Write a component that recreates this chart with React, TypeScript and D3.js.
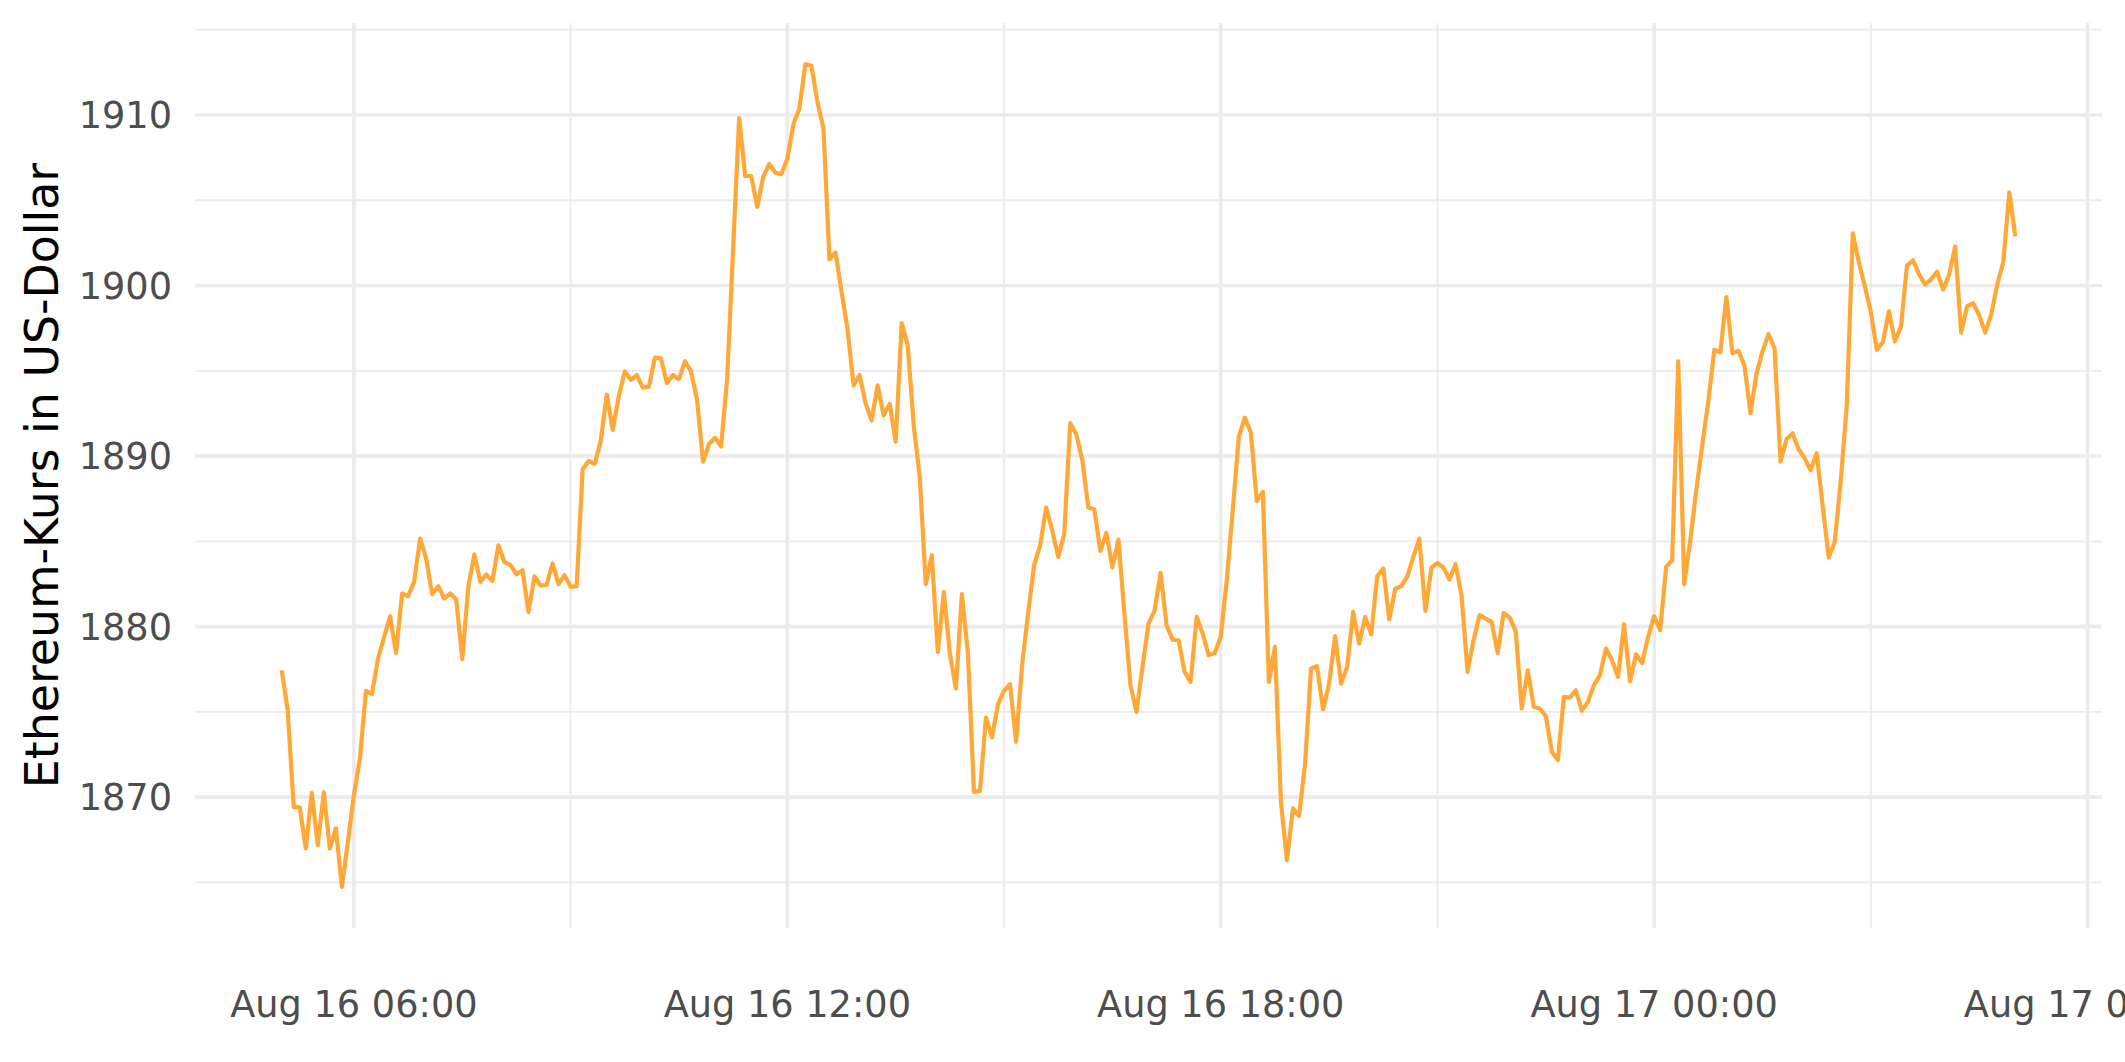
import * as d3 from 'd3';
import { useEffect, useRef } from 'react';

// Ethereum price, 5-minute candles, Aug 16 05:00 -> Aug 17 05:00 (UTC)
const startTime = Date.UTC(2023, 7, 16, 5, 0);
const stepMinutes = 5;

const prices: number[] = [
  1877.44, 1875.10, 1869.43, 1869.40, 1866.99, 1870.25, 1867.19, 1870.28, 1866.99, 1868.17, 1864.74, 1867.38,
  1870.12, 1872.27, 1876.23, 1876.04, 1878.13, 1879.36, 1880.61, 1878.46, 1881.94, 1881.78, 1882.62, 1885.16,
  1883.99, 1881.90, 1882.37, 1881.65, 1881.94, 1881.59, 1878.09, 1882.33, 1884.24, 1882.62, 1883.05, 1882.68,
  1884.77, 1883.79, 1883.60, 1883.07, 1883.31, 1880.86, 1882.95, 1882.41, 1882.44, 1883.70, 1882.49, 1883.01,
  1882.33, 1882.37, 1889.23, 1889.71, 1889.55, 1890.88, 1893.61, 1891.53, 1893.51, 1894.96, 1894.47, 1894.75,
  1894.01, 1894.07, 1895.77, 1895.73, 1894.27, 1894.75, 1894.51, 1895.56, 1894.96, 1893.31, 1889.67, 1890.72,
  1891.08, 1890.56, 1894.51, 1902.19, 1909.81, 1906.42, 1906.42, 1904.61, 1906.38, 1907.13, 1906.62, 1906.52,
  1907.43, 1909.45, 1910.36, 1912.98, 1912.88, 1910.76, 1909.21, 1901.54, 1901.94, 1899.66, 1897.44, 1894.15,
  1894.75, 1893.10, 1892.09, 1894.15, 1892.39, 1893.06, 1890.84, 1897.80, 1896.49, 1891.79, 1888.76, 1882.49,
  1884.19, 1878.52, 1882.03, 1878.42, 1876.37, 1881.90, 1878.42, 1870.31, 1870.37, 1874.67, 1873.50, 1875.45,
  1876.23, 1876.62, 1873.24, 1877.74, 1880.77, 1883.60, 1884.77, 1886.98, 1885.65, 1884.09, 1885.42, 1891.93,
  1891.28, 1889.77, 1886.99, 1886.88, 1884.44, 1885.49, 1883.46, 1885.10, 1880.77, 1876.57, 1875.00, 1877.64,
  1880.18, 1880.92, 1883.15, 1880.08, 1879.24, 1879.20, 1877.35, 1876.76, 1880.57, 1879.60, 1878.32, 1878.46,
  1879.40, 1882.72, 1886.84, 1891.13, 1892.25, 1891.38, 1887.35, 1887.90, 1876.76, 1878.81, 1869.72, 1866.31,
  1869.34, 1868.89, 1871.88, 1877.54, 1877.68, 1875.14, 1876.66, 1879.44, 1876.66, 1877.64, 1880.86, 1879.00,
  1880.57, 1879.55, 1882.95, 1883.41, 1880.42, 1882.22, 1882.37, 1882.95, 1884.09, 1885.16, 1880.92, 1883.46,
  1883.73, 1883.46, 1882.76, 1883.66, 1881.84, 1877.35, 1879.20, 1880.67, 1880.47, 1880.28, 1878.46, 1880.80,
  1880.53, 1879.75, 1875.20, 1877.44, 1875.29, 1875.20, 1874.75, 1872.66, 1872.17, 1875.88, 1875.84, 1876.27,
  1875.06, 1875.59, 1876.57, 1877.15, 1878.72, 1878.03, 1877.05, 1880.14, 1876.80, 1878.38, 1877.87, 1879.40,
  1880.61, 1879.79, 1883.50, 1883.89, 1895.56, 1882.49, 1885.06, 1888.00, 1890.68, 1893.21, 1896.23, 1896.08,
  1899.32, 1896.03, 1896.17, 1895.32, 1892.51, 1894.82, 1896.14, 1897.14, 1896.32, 1889.67, 1890.98, 1891.34,
  1890.40, 1889.87, 1889.17, 1890.16, 1887.06, 1884.05, 1884.96, 1888.52, 1893.00, 1903.06, 1901.38, 1899.96,
  1898.45, 1896.23, 1896.67, 1898.49, 1896.73, 1897.59, 1901.17, 1901.48, 1900.67, 1900.07, 1900.36, 1900.81,
  1899.76, 1900.63, 1902.29, 1897.24, 1898.79, 1898.96, 1898.25, 1897.24, 1898.31, 1900.07, 1901.38, 1905.46, 1902.89,
];

const yTicks = [1870, 1880, 1890, 1900, 1910];
const yMinorTicks = [1865, 1875, 1885, 1895, 1905, 1915];
const xTicks = [
  new Date(Date.UTC(2023, 7, 16, 6)),
  new Date(Date.UTC(2023, 7, 16, 12)),
  new Date(Date.UTC(2023, 7, 16, 18)),
  new Date(Date.UTC(2023, 7, 17, 0)),
  new Date(Date.UTC(2023, 7, 17, 6)),
];
const xMinorTicks = [
  new Date(Date.UTC(2023, 7, 16, 9)),
  new Date(Date.UTC(2023, 7, 16, 15)),
  new Date(Date.UTC(2023, 7, 16, 21)),
  new Date(Date.UTC(2023, 7, 17, 3)),
];
const yTitle = 'Ethereum-Kurs in US-Dollar';

const W = 2125;
const H = 1062;
const FONT = '"DejaVu Sans", sans-serif';

const App = () => {
  const svgRef = useRef<SVGSVGElement | null>(null);

  useEffect(() => {
    if (!svgRef.current) return;
    document.body.style.margin = '0';

    const data = prices.map((p, i) => ({
      t: new Date(startTime + i * stepMinutes * 60000),
      price: p,
    }));

    const svg = d3.select(svgRef.current);
    svg.selectAll('*').remove();

    // panel box (ggplot: 5% expansion on both scales)
    const panel = { left: 195, right: 2102, top: 23, bottom: 928 };

    const tExtent = d3.extent(data, d => d.t.getTime()) as [number, number];
    const tPad = (tExtent[1] - tExtent[0]) * 0.05;
    const x = d3.scaleUtc()
      .domain([new Date(tExtent[0] - tPad), new Date(tExtent[1] + tPad)])
      .range([panel.left, panel.right]);

    const pExtent = d3.extent(prices) as [number, number];
    const pPad = (pExtent[1] - pExtent[0]) * 0.05;
    const y = d3.scaleLinear()
      .domain([pExtent[0] - pPad, pExtent[1] + pPad])
      .range([panel.bottom, panel.top]);

    const grid = svg.append('g');

    // minor grid
    grid.selectAll('.ymin')
      .data(yMinorTicks)
      .join('line')
      .attr('x1', panel.left).attr('x2', panel.right)
      .attr('y1', d => y(d)).attr('y2', d => y(d))
      .attr('stroke', '#EBEBEB').attr('stroke-width', 1.8);

    grid.selectAll('.xmin')
      .data(xMinorTicks)
      .join('line')
      .attr('x1', d => x(d)).attr('x2', d => x(d))
      .attr('y1', panel.top).attr('y2', panel.bottom)
      .attr('stroke', '#EBEBEB').attr('stroke-width', 1.8);

    // major grid
    grid.selectAll('.ymaj')
      .data(yTicks)
      .join('line')
      .attr('class', 'ymaj')
      .attr('x1', panel.left).attr('x2', panel.right)
      .attr('y1', d => y(d)).attr('y2', d => y(d))
      .attr('stroke', '#EBEBEB').attr('stroke-width', 3.6);

    grid.selectAll('.xmaj')
      .data(xTicks)
      .join('line')
      .attr('class', 'xmaj')
      .attr('x1', d => x(d)).attr('x2', d => x(d))
      .attr('y1', panel.top).attr('y2', panel.bottom)
      .attr('stroke', '#EBEBEB').attr('stroke-width', 3.6);

    // price line
    const line = d3.line<{ t: Date; price: number }>()
      .x(d => x(d.t))
      .y(d => y(d.price));

    svg.append('path')
      .datum(data)
      .attr('d', line)
      .attr('fill', 'none')
      .attr('stroke', '#FFA838')
      .attr('stroke-width', 4.2)
      .attr('stroke-linejoin', 'round');

    // y tick labels
    svg.append('g')
      .selectAll('text')
      .data(yTicks)
      .join('text')
      .attr('x', 172)
      .attr('y', d => y(d))
      .attr('dy', '0.36em')
      .attr('text-anchor', 'end')
      .style('font-family', FONT)
      .style('font-size', '36.7px')
      .style('fill', '#4D4D4D')
      .text(d => d);

    // x tick labels
    const fmt = d3.utcFormat('%b %d %H:%M');
    svg.append('g')
      .selectAll('text')
      .data(xTicks)
      .join('text')
      .attr('x', d => x(d))
      .attr('y', 1017)
      .attr('text-anchor', 'middle')
      .style('font-family', FONT)
      .style('font-size', '36.7px')
      .style('fill', '#4D4D4D')
      .text(d => fmt(d));

    // y axis title
    svg.append('text')
      .attr('transform', `translate(58,${(panel.top + panel.bottom) / 2}) rotate(-90)`)
      .attr('text-anchor', 'middle')
      .style('font-family', FONT)
      .style('font-size', '45.8px')
      .style('fill', '#000000')
      .text(yTitle);
  }, []);

  return (
    <svg
      ref={svgRef}
      width={W}
      height={H}
      style={{ position: 'absolute', left: 0, top: 0, background: '#FFFFFF', overflow: 'hidden' }}
    />
  );
};

export default App;
